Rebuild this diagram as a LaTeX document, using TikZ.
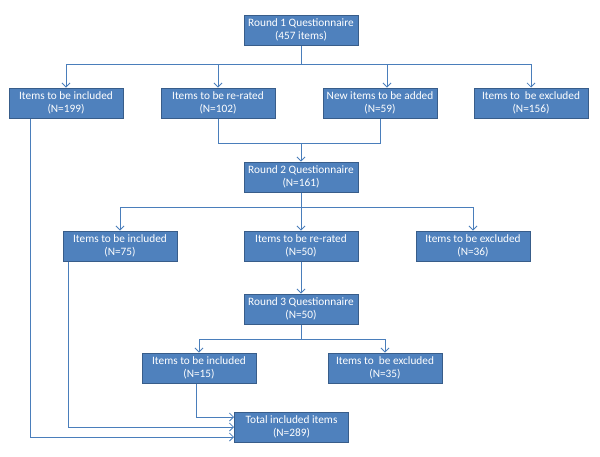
\documentclass[tikz,border=0pt]{standalone}
\usepackage{fontspec}
\setmainfont{Carlito}
\usetikzlibrary{arrows.meta}
\definecolor{boxfill}{HTML}{4F81BD}
\definecolor{boxdraw}{HTML}{385D8A}
\definecolor{linec}{HTML}{4A7EBB}
\begin{document}
\begin{tikzpicture}[x=1pt,y=-1pt,
  box/.style={draw=boxdraw, fill=boxfill, line width=1pt, text=white,
    minimum width=114pt, minimum height=30pt, align=center,
    font=\fontsize{11.3}{12.8}\selectfont, inner sep=0pt},
  conn/.style={draw=linec, line width=0.8pt},
  arr/.style={conn, -{Straight Barb[length=4pt,width=8pt,line width=0.8pt]}}]
\useasboundingbox (0,0) rectangle (600,456);
% Nodes
\node[box] (r1) at (301,30) {Round 1 Questionnaire\\(457 items)};
\node[box] (a) at (66,103) {Items to be included\\(N=199)};
\node[box] (b) at (218,103) {Items to be re-rated\\(N=102)};
\node[box] (c) at (380,103) {New items to be added\\(N=59)};
\node[box] (d) at (531,103) {Items to\ \ be excluded\\(N=156)};
\node[box] (r2) at (301,177) {Round 2 Questionnaire\\(N=161)};
\node[box] (e) at (120,246) {Items to be included\\(N=75)};
\node[box] (f) at (301,246) {Items to be re-rated\\(N=50)};
\node[box] (g) at (473,246) {Items to be excluded\\(N=36)};
\node[box] (r3) at (301,309) {Round 3 Questionnaire\\(N=50)};
\node[box] (h) at (199,368) {Items to be included\\(N=15)};
\node[box] (i) at (385,368) {Items to\ \ be excluded\\(N=35)};
\node[box] (t) at (291.5,427) {Total included items\\(N=289)};
% Junctions
\coordinate (j1) at (301,64);
\coordinate (j1a) at (66,64);
\coordinate (j1d) at (531,64);
\coordinate (j2) at (301,143);
\coordinate (j2b) at (218,143);
\coordinate (j2c) at (380,143);
\coordinate (j3) at (301,207);
\coordinate (j3e) at (120,207);
\coordinate (j3g) at (473,207);
\coordinate (j4) at (301,339);
\coordinate (j4h) at (199,339);
\coordinate (j4i) at (385,339);
\coordinate (ka) at (30,437);
\coordinate (ke) at (68,427);
\coordinate (kh) at (196,417);
% Round 1 branching
\draw[conn] (r1.south) -- (j1);
\draw[conn] (j1a) -- (j1d);
\draw[arr] (j1a) -- (a.north);
\draw[arr] (b.north |- j1) -- (b.north);
\draw[arr] ([xshift=7pt]c.north |- j1) -- ([xshift=7pt]c.north);
\draw[arr] (j1d) -- (d.north);
% merge to round 2
\draw[conn] (b.south) -- (j2b) -- (j2c) -- (c.south);
\draw[arr] (j2) -- (r2.north);
% Round 2 branching
\draw[conn] (r2.south) -- (j3);
\draw[conn] (j3e) -- (j3g);
\draw[arr] (j3e) -- (e.north);
\draw[arr] (j3) -- (f.north);
\draw[arr] (j3g) -- (g.north);
\draw[arr] (f.south) -- (r3.north);
% Round 3 branching
\draw[conn] (r3.south) -- (j4);
\draw[conn] (j4h) -- (j4i);
\draw[arr] (j4h) -- (h.north);
\draw[arr] (j4i) -- (i.north);
% to total
\draw[arr] (a.south -| ka) -- (ka) -- (t.west |- ka);
\draw[arr] (e.south -| ke) -- (ke) -- (t.west |- ke);
\draw[arr] (h.south -| kh) -- (kh) -- (t.west |- kh);
\end{tikzpicture}
\end{document}
